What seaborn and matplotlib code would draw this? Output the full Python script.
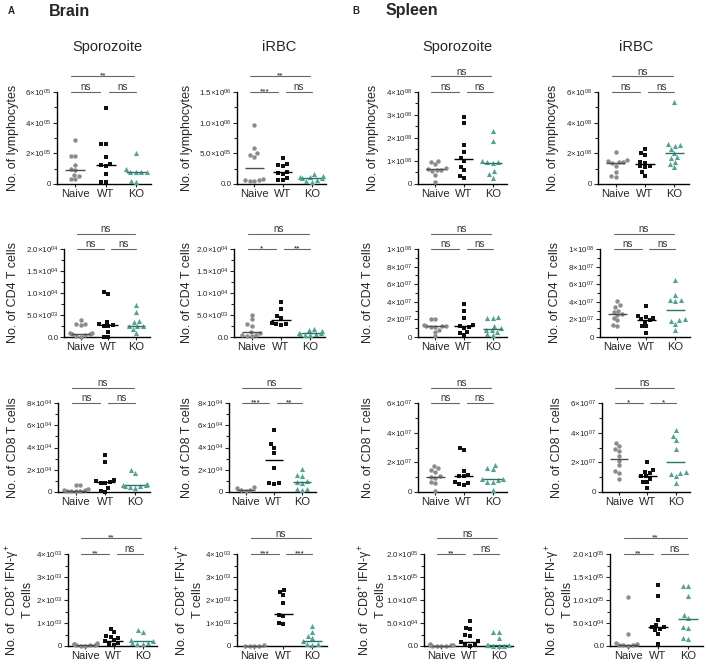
import numpy as np
import pandas as pd
import seaborn as sns
import matplotlib.pyplot as plt
from matplotlib.ticker import AutoMinorLocator
import warnings

warnings.filterwarnings("ignore")

sns.set_style("ticks")
plt.rcParams["font.family"] = ["Liberation Sans", "DejaVu Sans"]
plt.rcParams["mathtext.fontset"] = "custom"
plt.rcParams["mathtext.rm"] = "Liberation Sans"
plt.rcParams["mathtext.it"] = "Liberation Sans:italic"
plt.rcParams["mathtext.bf"] = "Liberation Sans:bold"

grupos = ["Naive", "WT", "KO"]
colores = {"Naive": "#8c8c8c", "WT": "#111111", "KO": "#52a394"}
marcadores = {"Naive": "o", "WT": "s", "KO": "^"}
tamanos = {"Naive": 3.2, "WT": 3.3, "KO": 3.7}
lineas = {"Naive": "#4d4d4d", "WT": "#000000", "KO": "#2b7367"}

# ---- Fila 1: linfocitos ----
cer_spz_lin = {"Naive": [2.9e5, 1.85e5, 1.8e5, 1.25e5, 1.0e5, 0.9e5, 0.6e5, 0.5e5, 0.3e5, 0.3e5],
               "WT": [4.95e5, 2.6e5, 2.6e5, 1.75e5, 1.3e5, 1.25e5, 1.15e5, 0.65e5, 0.15e5, 0.15e5],
               "KO": [2.05e5, 0.95e5, 0.8e5, 0.8e5, 0.78e5, 0.75e5, 0.2e5, 0.15e5]}
cer_spz_lin_med = [0.93e5, 1.23e5, 0.77e5]
cer_irbc_lin = {"Naive": [9.7e5, 5.8e5, 5.0e5, 4.8e5, 4.4e5, 0.8e5, 0.7e5, 0.6e5, 0.5e5, 0.5e5],
                "WT": [4.2e5, 3.3e5, 3.1e5, 2.9e5, 2.0e5, 1.8e5, 1.7e5, 0.9e5, 0.7e5, 0.6e5],
                "KO": [1.7e5, 1.3e5, 1.2e5, 1.1e5, 1.0e5, 0.9e5, 0.7e5, 0.5e5, 0.4e5]}
cer_irbc_lin_med = [2.6e5, 1.9e5, 1.0e5]
bazo_spz_lin = {"Naive": [1.0e8, 0.95e8, 0.85e8, 0.7e8, 0.65e8, 0.62e8, 0.6e8, 0.55e8, 0.4e8, 0.1e8],
                "WT": [2.9e8, 2.65e8, 1.7e8, 1.4e8, 1.15e8, 1.0e8, 0.75e8, 0.6e8, 0.35e8, 0.25e8],
                "KO": [2.3e8, 1.85e8, 1.0e8, 0.95e8, 0.95e8, 0.9e8, 0.55e8, 0.45e8, 0.27e8]}
bazo_spz_lin_med = [0.64e8, 1.08e8, 0.93e8]
bazo_irbc_lin = {"Naive": [2.1e8, 1.55e8, 1.5e8, 1.45e8, 1.42e8, 1.38e8, 1.2e8, 0.8e8, 0.5e8, 0.45e8],
                 "WT": [2.25e8, 2.05e8, 1.9e8, 1.45e8, 1.4e8, 1.2e8, 1.15e8, 1.1e8, 0.8e8, 0.55e8],
                 "KO": [5.35e8, 2.6e8, 2.55e8, 2.5e8, 2.3e8, 2.05e8, 1.75e8, 1.7e8, 1.45e8, 1.3e8, 1.1e8]}
bazo_irbc_lin_med = [1.4e8, 1.3e8, 2.05e8]

# ---- Fila 2: CD4 ----
cer_spz_cd4 = {"Naive": [3.9e3, 2.9e3, 2.9e3, 2.8e3, 1.0e3, 0.9e3, 0.7e3, 0.6e3, 0.4e3, 0.2e3, 0.1e3],
               "WT": [10.2e3, 9.8e3, 3.4e3, 3.0e3, 2.8e3, 2.6e3, 2.4e3, 1.2e3, 0.1e3, 0.1e3],
               "KO": [7.2e3, 5.6e3, 3.6e3, 3.3e3, 2.6e3, 2.5e3, 2.4e3, 1.8e3, 0.9e3]}
cer_spz_cd4_med = [0.7e3, 2.7e3, 2.6e3]
cer_irbc_cd4 = {"Naive": [5.1e3, 4.0e3, 3.0e3, 2.6e3, 1.2e3, 1.0e3, 0.5e3, 0.4e3, 0.3e3, 0.2e3],
                "WT": [8.0e3, 6.3e3, 4.8e3, 4.4e3, 3.2e3, 3.0e3, 2.9e3, 2.8e3],
                "KO": [1.8e3, 1.5e3, 1.3e3, 0.9e3, 0.8e3, 0.7e3, 0.6e3, 0.5e3, 0.4e3]}
cer_irbc_cd4_med = [1.1e3, 3.8e3, 0.8e3]
bazo_spz_cd4 = {"Naive": [2.1e7, 2.0e7, 1.4e7, 1.3e7, 1.25e7, 1.2e7, 1.15e7, 1.1e7, 0.8e7, 0.6e7, 0.1e7],
                "WT": [3.7e7, 2.9e7, 2.15e7, 1.4e7, 1.3e7, 1.1e7, 1.05e7, 0.6e7, 0.5e7, 0.2e7],
                "KO": [2.3e7, 2.2e7, 2.2e7, 1.3e7, 1.0e7, 0.85e7, 0.8e7, 0.6e7, 0.3e7, 0.2e7]}
bazo_spz_cd4_med = [1.2e7, 1.2e7, 0.9e7]
bazo_irbc_cd4 = {"Naive": [4.1e7, 3.6e7, 3.4e7, 3.0e7, 2.8e7, 2.6e7, 2.5e7, 2.2e7, 1.9e7, 1.4e7, 1.3e7],
                 "WT": [3.5e7, 2.4e7, 2.3e7, 2.2e7, 2.0e7, 1.9e7, 1.7e7, 1.3e7, 1.2e7, 0.5e7],
                 "KO": [6.5e7, 4.8e7, 4.2e7, 4.2e7, 4.1e7, 2.0e7, 1.9e7, 1.8e7, 1.5e7, 0.8e7]}
bazo_irbc_cd4_med = [2.6e7, 1.95e7, 3.05e7]

# ---- Fila 3: CD8 ----
cer_spz_cd8 = {"Naive": [0.65e4, 0.6e4, 0.3e4, 0.2e4, 0.15e4, 0.1e4, 0.1e4, 0.05e4, 0.05e4],
               "WT": [3.35e4, 2.7e4, 1.1e4, 1.0e4, 0.9e4, 0.85e4, 0.8e4, 0.35e4, 0.05e4, 0.02e4],
               "KO": [2.0e4, 1.75e4, 0.7e4, 0.65e4, 0.6e4, 0.55e4, 0.5e4, 0.45e4, 0.4e4]}
cer_spz_cd8_med = [0.12e4, 0.88e4, 0.6e4]
cer_irbc_cd8 = {"Naive": [0.45e4, 0.35e4, 0.2e4, 0.15e4, 0.1e4],
                "WT": [5.6e4, 4.3e4, 4.0e4, 3.5e4, 2.2e4, 0.8e4, 0.8e4, 0.75e4],
                "KO": [2.1e4, 1.5e4, 1.4e4, 0.95e4, 0.9e4, 0.85e4, 0.3e4, 0.25e4, 0.2e4]}
cer_irbc_cd8_med = [0.15e4, 2.85e4, 0.88e4]
bazo_spz_cd8 = {"Naive": [1.75e7, 1.6e7, 1.45e7, 1.35e7, 1.05e7, 1.0e7, 0.95e7, 0.7e7, 0.6e7, 0.1e7],
                "WT": [3.0e7, 2.85e7, 1.4e7, 1.15e7, 1.1e7, 1.05e7, 0.65e7, 0.6e7, 0.55e7, 0.5e7],
                "KO": [1.85e7, 1.6e7, 1.55e7, 0.9e7, 0.85e7, 0.8e7, 0.7e7, 0.65e7, 0.15e7]}
bazo_spz_cd8_med = [1.03e7, 1.08e7, 0.87e7]
bazo_irbc_cd8 = {"Naive": [3.3e7, 3.1e7, 2.9e7, 2.75e7, 2.4e7, 2.1e7, 1.8e7, 1.4e7, 1.3e7, 0.9e7],
                 "WT": [2.05e7, 1.45e7, 1.35e7, 1.25e7, 1.1e7, 1.05e7, 0.9e7, 0.7e7, 0.65e7, 0.25e7],
                 "KO": [4.2e7, 3.8e7, 3.5e7, 2.9e7, 1.35e7, 1.3e7, 1.2e7, 1.1e7, 0.6e7]}
bazo_irbc_cd8_med = [2.25e7, 1.08e7, 2.05e7]

# ---- Fila 4: CD8+ IFN-g+ ----
cer_spz_ifn = {"Naive": [0.12e3, 0.1e3, 0.08e3, 0.07e3, 0.05e3, 0.04e3, 0.03e3, 0.02e3, 0.02e3],
               "WT": [0.75e3, 0.6e3, 0.45e3, 0.4e3, 0.35e3, 0.25e3, 0.2e3, 0.12e3, 0.08e3, 0.05e3],
               "KO": [0.7e3, 0.62e3, 0.25e3, 0.2e3, 0.15e3, 0.12e3, 0.1e3, 0.08e3]}
cer_spz_ifn_med = [0.05e3, 0.2e3, 0.2e3]
cer_irbc_ifn = {"Naive": [0.03e3, 0.02e3, 0.02e3, 0.01e3, 0.01e3],
                "WT": [2.45e3, 2.35e3, 2.2e3, 1.85e3, 1.35e3, 1.3e3, 1.0e3, 0.95e3],
                "KO": [0.86e3, 0.6e3, 0.45e3, 0.35e3, 0.2e3, 0.1e3, 0.08e3, 0.05e3]}
cer_irbc_ifn_med = [0.01e3, 1.4e3, 0.2e3]
bazo_spz_ifn = {"Naive": [0.05e5, 0.03e5, 0.02e5, 0.02e5, 0.01e5, 0.01e5, 0.005e5, 0.005e5],
                "WT": [0.55e5, 0.4e5, 0.36e5, 0.24e5, 0.22e5, 0.1e5, 0.08e5, 0.03e5, 0.02e5, 0.01e5],
                "KO": [0.3e5, 0.3e5, 0.17e5, 0.03e5, 0.02e5, 0.02e5, 0.01e5, 0.01e5, 0.01e5]}
bazo_spz_ifn_med = [0.01e5, 0.09e5, 0.02e5]
bazo_irbc_ifn = {"Naive": [1.07e5, 0.27e5, 0.07e5, 0.04e5, 0.03e5, 0.02e5, 0.02e5, 0.01e5],
                 "WT": [1.33e5, 1.08e5, 0.56e5, 0.45e5, 0.42e5, 0.41e5, 0.38e5, 0.35e5, 0.27e5, 0.05e5],
                 "KO": [1.3e5, 1.3e5, 1.08e5, 0.68e5, 0.6e5, 0.42e5, 0.4e5, 0.17e5, 0.16e5]}
bazo_irbc_ifn_med = [0.02e5, 0.41e5, 0.58e5]

# Significancia: (Naive-WT, WT-KO, Naive-KO)
sig = [
    [["ns", "ns", "**"], ["***", "ns", "**"], ["ns", "ns", "ns"], ["ns", "ns", "ns"]],
    [["ns", "ns", "ns"], ["*", "**", "ns"], ["ns", "ns", "ns"], ["ns", "ns", "ns"]],
    [["ns", "ns", "ns"], ["***", "**", "ns"], ["ns", "ns", "ns"], ["*", "*", "ns"]],
    [["**", "ns", "**"], ["***", "***", "ns"], ["**", "ns", "ns"], ["**", "ns", "**"]],
]

# Escalas del eje y: (maximo, paso, estilo)
escalas = [
    [(6e5, 2e5, "int"), (1.5e6, 5e5, "dec"), (4e8, 1e8, "int"), (6e8, 2e8, "int")],
    [(2e4, 5e3, "dec"), (2e4, 5e3, "dec"), (1e8, 2e7, "int"), (1e8, 2e7, "int")],
    [(8e4, 2e4, "int"), (8e4, 2e4, "int"), (6e7, 2e7, "int"), (6e7, 2e7, "int")],
    [(4e3, 1e3, "int"), (4e3, 1e3, "int"), (2e5, 5e4, "dec"), (2e5, 5e4, "dec")],
]

titulos_y = ["No. of lymphocytes", "No. of CD4 T cells", "No. of CD8 T cells",
             "No. of  CD8$^{+}$ IFN-γ$^{+}$\nT cells"]

datos = [
    [(cer_spz_lin, cer_spz_lin_med), (cer_irbc_lin, cer_irbc_lin_med),
     (bazo_spz_lin, bazo_spz_lin_med), (bazo_irbc_lin, bazo_irbc_lin_med)],
    [(cer_spz_cd4, cer_spz_cd4_med), (cer_irbc_cd4, cer_irbc_cd4_med),
     (bazo_spz_cd4, bazo_spz_cd4_med), (bazo_irbc_cd4, bazo_irbc_cd4_med)],
    [(cer_spz_cd8, cer_spz_cd8_med), (cer_irbc_cd8, cer_irbc_cd8_med),
     (bazo_spz_cd8, bazo_spz_cd8_med), (bazo_irbc_cd8, bazo_irbc_cd8_med)],
    [(cer_spz_ifn, cer_spz_ifn_med), (cer_irbc_ifn, cer_irbc_ifn_med),
     (bazo_spz_ifn, bazo_spz_ifn_med), (bazo_irbc_ifn, bazo_irbc_ifn_med)],
]

# Posiciones de los ejes en pixeles
W, H = 708, 665
cols_px = [
    [(57, 151), (237, 326), (418, 507), (598, 689)],
    [(64, 150), (234, 325), (418, 507), (600, 690)],
    [(58, 150), (229, 316), (418, 507), (602, 690)],
    [(68, 157), (237, 327), (424, 513), (610, 703)],
]
filas_px = [(92, 184), (249, 337), (403, 492), (554, 646)]
ylab_x = [[13, 187, 373, 553], [13, 187, 368, 555], [13, 187, 368, 557], [19, 189, 372, 559]]


def etiqueta(v, estilo):
    if v == 0:
        return "0.0" if estilo == "dec" else "0"
    e = int(np.floor(np.log10(v) + 1e-9))
    m = v / 10 ** e
    ms = f"{m:.1f}" if estilo == "dec" else f"{m:.0f}"
    return f"{ms}×10$^{{{e:02d}}}$"


fig = plt.figure(figsize=(7.08, 6.65), dpi=100)

for i in range(4):
    t, b = filas_px[i]
    for j in range(4):
        l, r = cols_px[i][j]
        ax = fig.add_axes([l / W, 1 - b / H, (r - l) / W, (b - t) / H])
        puntos, medianas = datos[i][j]
        df = pd.DataFrame([(g, v) for g in grupos for v in puntos[g]], columns=["grupo", "valor"])
        for k, g in enumerate(grupos):
            sns.swarmplot(data=df[df["grupo"] == g], x="grupo", y="valor", order=grupos, ax=ax,
                          color=colores[g], marker=marcadores[g], size=tamanos[g], linewidth=0)
            ax.hlines(medianas[k], k - 0.33, k + 0.33, color=lineas[g], lw=1.0, zorder=5)
        for c in ax.collections:
            c.set_clip_on(False)

        ymax, paso, estilo = escalas[i][j]
        ax.set_xlim(-0.6, 2.5)
        ax.set_ylim(0, ymax)
        yt = np.arange(0, ymax + paso / 2, paso)
        ax.set_yticks(yt)
        ax.set_yticklabels([etiqueta(v, estilo) for v in yt])
        ax.yaxis.set_minor_locator(AutoMinorLocator(2))
        ax.set_xlabel("")
        ax.set_ylabel("")
        sns.despine(ax=ax)
        for s in ["left", "bottom"]:
            ax.spines[s].set_linewidth(1.0)
            ax.spines[s].set_color("black")
        ax.tick_params(axis="y", which="major", length=3, width=0.8, labelsize=5.8, pad=1)
        ax.tick_params(axis="y", which="minor", length=2, width=0.8)
        ax.tick_params(axis="x", length=2, width=0.8, labelsize=8, pad=1.5)

        # barras de significancia
        tr = ax.get_xaxis_transform()
        barras = [(-0.13, 0.83, 1.0), (1.1, 2.0, 1.0), (-0.13, 1.95, 1.17)]
        for (x0, x1, yy), txt in zip(barras, sig[i][j]):
            ax.plot([x0, x1], [yy, yy], transform=tr, color="#666666", lw=0.8, clip_on=False)
            if txt == "ns":
                ax.annotate(txt, xy=((x0 + x1) / 2, yy), xycoords=tr, xytext=(0, 1.2),
                            textcoords="offset points", ha="center", va="baseline",
                            fontsize=7, color="#333333")
            else:
                ax.annotate(txt, xy=((x0 + x1) / 2, yy), xycoords=tr, xytext=(0, -0.8),
                            textcoords="offset points", ha="center", va="baseline",
                            fontsize=6, color="#111111")

        fig.text(ylab_x[i][j] / W, 1 - (t + b) / 2 / H, titulos_y[i], rotation=90,
                 ha="center", va="center", fontsize=9, multialignment="center",
                 linespacing=0.95)

# Titulos
fig.text(8 / W, 1 - 11 / H, "A", fontsize=7, fontweight="bold", va="center")
fig.text(49 / W, 1 - 11 / H, "Brain", fontsize=11.5, fontweight="bold", va="center")
fig.text(352 / W, 1 - 11 / H, "B", fontsize=7, fontweight="bold", va="center")
fig.text(386 / W, 1 - 11 / H, "Spleen", fontsize=11.5, fontweight="bold", va="center")
for x, txt in zip([107, 279, 457, 636], ["Sporozoite", "iRBC", "Sporozoite", "iRBC"]):
    fig.text(x / W, 1 - 47 / H, txt, fontsize=10.5, ha="center", va="center")

fig.savefig("out.png", dpi=100)
